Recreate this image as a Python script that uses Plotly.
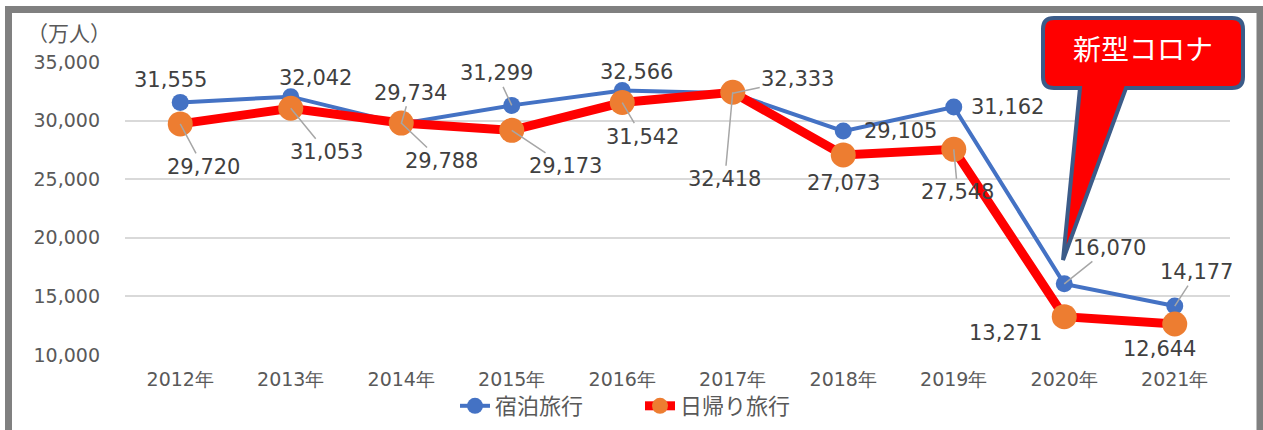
import plotly.graph_objects as go

years = ["2012年", "2013年", "2014年", "2015年", "2016年", "2017年", "2018年", "2019年", "2020年", "2021年"]
shukuhaku = [31555, 32042, 29734, 31299, 32566, 32333, 29105, 31162, 16070, 14177]
higaeri = [29720, 31053, 29788, 29173, 31542, 32418, 27073, 27548, 13271, 12644]
y_ticks = [10000, 15000, 20000, 25000, 30000, 35000]

# label offsets (pixels) and whether a leader line is drawn
blue_lbl = [(-10, -22, False), (25, -19, False), (9, -31, True), (-15, -32, True), (14, -19, False),
            (65, -14, True), (57, 0, False), (54, 0, False), (45, -36, True), (22, -34, True)]
red_lbl = [(23, 43, True), (36, 44, True), (40, 38, True), (54, 36, True), (20, 34, True),
           (-8, 87, True), (0, 28, False), (4, 43, True), (-59, 16, False), (-15, 25, False)]

W, H = 1263, 430
L, R, T, B = 125, 33, 62, 75
PW, PH = W - L - R, H - T - B


def px(X):
    return (X - L) / PW


def py(Y):
    return (H - B - Y) / PH


fig = go.Figure()
fig.add_trace(go.Scatter(x=years, y=shukuhaku, name="宿泊旅行", mode="lines+markers",
                         line=dict(color="#4472C4", width=4),
                         marker=dict(color="#4472C4", size=17)))
fig.add_trace(go.Scatter(x=years, y=higaeri, name="日帰り旅行", mode="lines+markers",
                         line=dict(color="#FF0000", width=9),
                         marker=dict(color="#ED7D31", size=25)))

lab_font = dict(family="DejaVu Sans", size=21, color="#404040")
anns = []
for series, offs in ((shukuhaku, blue_lbl), (higaeri, red_lbl)):
    for cat, v, (dx, dy, lead) in zip(years, series, offs):
        txt = f"{v:,}"
        if lead:
            anns.append(dict(x=cat, y=v, xref="x", yref="y", text=txt, showarrow=True,
                             ax=dx, ay=dy, arrowhead=0, arrowwidth=1.5, arrowcolor="#A6A6A6",
                             font=lab_font, standoff=0))
        else:
            anns.append(dict(x=cat, y=v, xref="x", yref="y", text=txt, showarrow=False,
                             xshift=dx, yshift=-dy, font=lab_font))

# callout path
x0, x1, yt, yb, r = 1043, 1243, 18, 88, 11
tb0, tb1, tipx, tipy = 1080, 1126, 1063, 260
pts = [
    ("M", x0 + r, yt), ("L", x1 - r, yt), ("Q", x1, yt, x1, yt + r), ("L", x1, yb - r),
    ("Q", x1, yb, x1 - r, yb), ("L", tb1, yb), ("L", tipx, tipy), ("L", tb0, yb),
    ("L", x0 + r, yb), ("Q", x0, yb, x0, yb - r), ("L", x0, yt + r), ("Q", x0, yt, x0 + r, yt),
]
path = ""
for p in pts:
    if p[0] == "Q":
        path += f"Q{px(p[1]):.5f},{py(p[2]):.5f} {px(p[3]):.5f},{py(p[4]):.5f} "
    else:
        path += f"{p[0]}{px(p[1]):.5f},{py(p[2]):.5f} "
path += "Z"

shapes = [
    dict(type="path", xref="paper", yref="paper", path=path, fillcolor="#FF0000",
         line=dict(color="#3B5B88", width=4), layer="above"),
    dict(type="rect", xref="paper", yref="paper", x0=px(x0), x1=px(x1), y0=py(yb), y1=py(yt - 2),
         line=dict(width=0), fillcolor="rgba(0,0,0,0)", layer="above",
         label=dict(text="新型コロナ", textposition="middle center",
                    font=dict(family="Noto Sans CJK JP", size=28, color="white"))),
    dict(type="rect", xref="paper", yref="paper", x0=px(20), x1=px(118), y0=py(48), y1=py(22),
         line=dict(width=0), fillcolor="rgba(0,0,0,0)",
         label=dict(text="（万人）", textposition="middle center",
                    font=dict(family="Noto Sans CJK JP", size=21, color="#595959"))),
    dict(type="rect", xref="paper", yref="paper", x0=px(8.5), x1=px(1260), y0=py(9.5), y1=py(460),
         line=dict(color="#808080", width=7), fillcolor="rgba(0,0,0,0)"),
]

fig.update_layout(
    width=W, height=H, margin=dict(l=L, r=R, t=T, b=B, autoexpand=False),
    paper_bgcolor="white", plot_bgcolor="white",
    showlegend=True,
    legend=dict(orientation="h", x=px(455), xanchor="left", y=py(406), yanchor="middle",
                entrywidth=140, entrywidthmode="pixels", bgcolor="rgba(0,0,0,0)",
                font=dict(family="Noto Sans CJK JP", size=22, color="#595959")),
    xaxis=dict(range=[-0.5, 9.5], showgrid=False, showline=False, zeroline=False, ticks="",
               automargin=False,
               tickfont=dict(family="DejaVu Sans", size=19, color="#595959"), ticklabelstandoff=11),
    yaxis=dict(range=[10000, 35000], tickvals=y_ticks, tickformat=",d", showgrid=True, automargin=False,
               gridcolor="#D9D9D9", gridwidth=1.5, zeroline=False, showline=False, ticks="",
               tickfont=dict(family="DejaVu Sans", size=19, color="#595959"), ticklabelstandoff=24),
    annotations=anns, shapes=shapes,
)

fig.write_html("out.html", config={"displayModeBar": False},
               post_script="document.body.style.margin='0';")
